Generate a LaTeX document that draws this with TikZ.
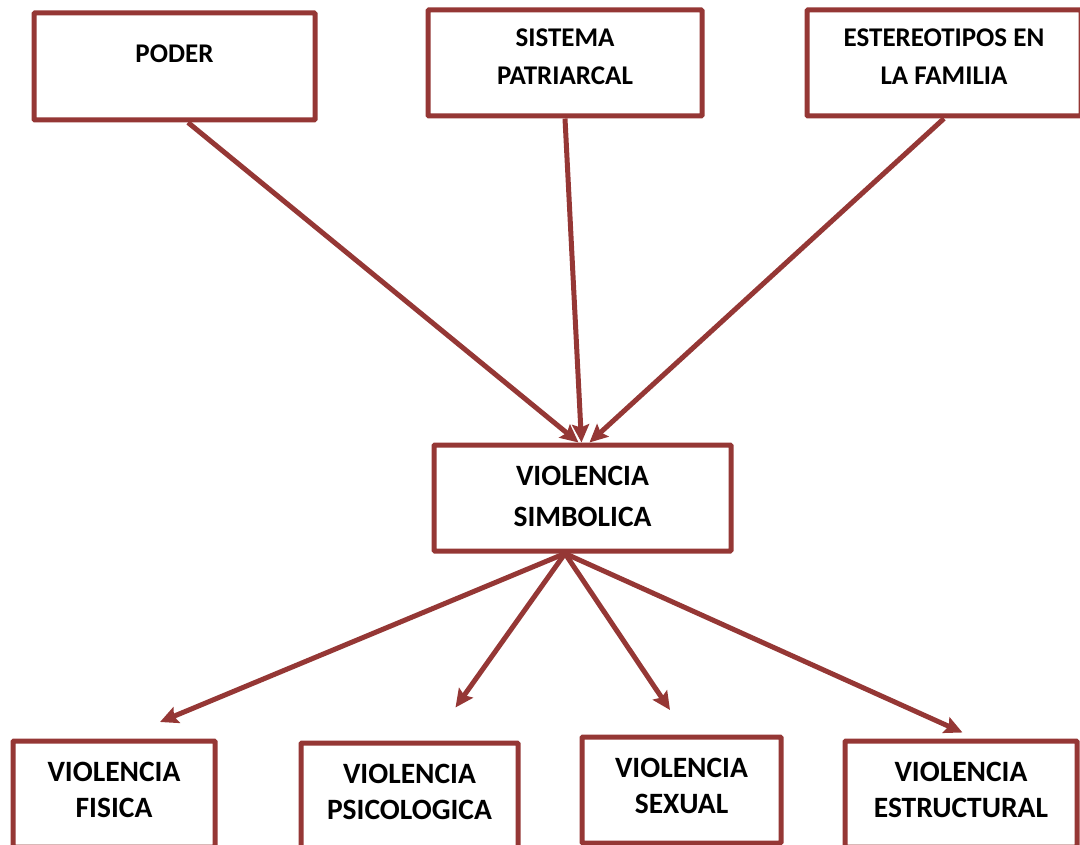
\documentclass[tikz,border=0pt]{standalone}
\usepackage{fontspec}
\setmainfont{Carlito}
\usetikzlibrary{arrows.meta}
\usetikzlibrary{positioning}
\definecolor{boxred}{RGB}{149,55,53}
\tikzset{>={Stealth[length=18pt,width=17pt,inset=3pt]}, x=1pt, y=-1pt}
\tikzstyle{block} = [draw=boxred, line width=5pt, fill=white, rectangle, rounded corners=1pt, minimum height=106pt]
\tikzstyle{toptext} = [font=\bfseries\fontsize{27}{38}\selectfont, align=center, inner sep=0pt]
\tikzstyle{midtext} = [font=\bfseries\fontsize{29.5}{41}\selectfont, align=center, inner sep=0pt]
\tikzstyle{bottext} = [font=\bfseries\fontsize{29.5}{36}\selectfont, align=center, inner sep=0pt]
\tikzstyle{link} = [draw=boxred, line width=5pt, ->]
\tikzstyle{tip} = [coordinate]

\begin{document}
\begin{tikzpicture}
			\useasboundingbox (0,0) rectangle (1080,845);

			\node [block, minimum width=281pt, minimum height=107pt] at (174.5,66.5) (poder) {};
			\node [block, minimum width=274pt] at (565,63) (sistema) {};
			\node [block, minimum width=274pt] at (944,63) (estereo) {};

			\node [block, minimum width=297pt] at (582.5,498) (simbolica) {};

			\node [block, minimum width=202pt] at (114,794) (fisica) {};
			\node [block, minimum width=217pt] at (409.5,796) (psico) {};
			\node [block, minimum width=199pt] at (681.5,790) (sexual) {};
			\node [block, minimum width=232pt] at (961,794) (estruct) {};

			\node [toptext] at (174.5,54) (poder_t) {PODER};
			\node [toptext] at (565,57) (sistema_t) {SISTEMA\\PATRIARCAL};
			\node [toptext] at (944,57) (estereo_t) {ESTEREOTIPOS EN\\LA FAMILIA};
			\node [midtext] at (582.5,496.5) (simbolica_t) {VIOLENCIA\\SIMBOLICA};
			\node [bottext] at (114,790) (fisica_t) {VIOLENCIA\\FISICA};
			\node [bottext] at (409.5,792) (psico_t) {VIOLENCIA\\PSICOLOGICA};
			\node [bottext] at (681.5,785.5) (sexual_t) {VIOLENCIA\\SEXUAL};
			\node [bottext] at (961,790) (estruct_t) {VIOLENCIA\\ESTRUCTURAL};

			\node [tip] at (160,722) (fisica_in) {};
			\node [tip] at (455.5,707.5) (psico_in) {};
			\node [tip] at (670,710) (sexual_in) {};
			\node [tip] at (962.5,732.5) (estruct_in) {};

			\draw [link] ([xshift=13.5pt]poder.south) -- ([xshift=-4pt]simbolica.north);
			\draw [link] (sistema.south) -- ([xshift=-1pt]simbolica.north);
			\draw [link] (estereo.south) -- ([xshift=7pt]simbolica.north);

			\draw [link] ([xshift=-17.5pt]simbolica.south) -- (fisica_in);
			\draw [link] ([xshift=-17.5pt]simbolica.south) -- (psico_in);
			\draw [link] ([xshift=-17.5pt]simbolica.south) -- (sexual_in);
			\draw [link] ([xshift=-17.5pt]simbolica.south) -- (estruct_in);
		\end{tikzpicture}
\end{document}
